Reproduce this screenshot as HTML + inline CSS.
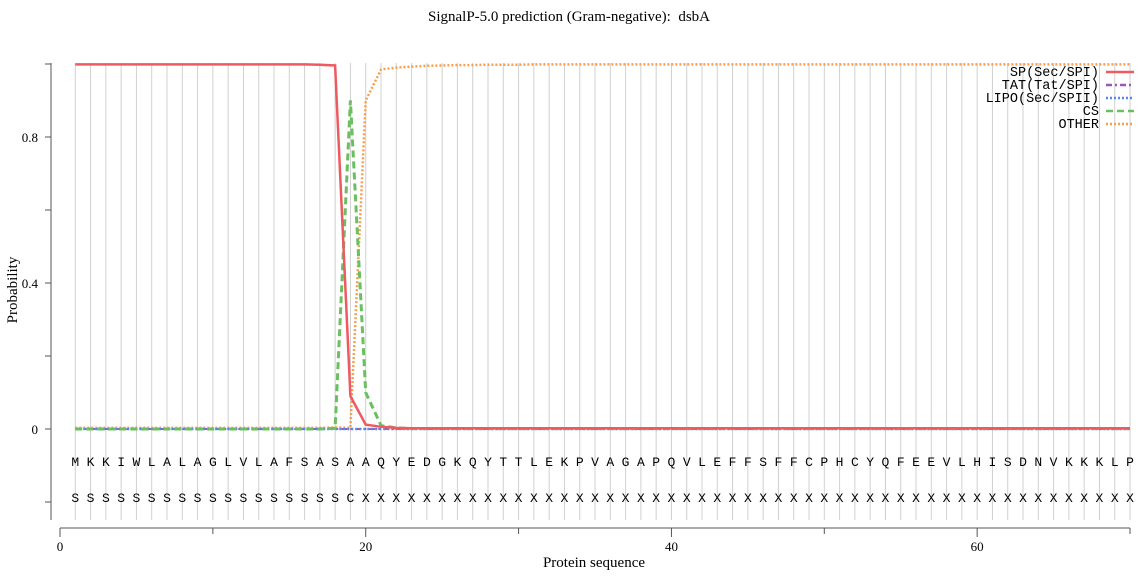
<!DOCTYPE html>
<html><head><meta charset="utf-8"><style>
body{margin:0;background:#fff;}
svg text{font-family:"Liberation Serif",serif;}
.mono{font-family:"Liberation Mono",monospace;}
</style></head><body>
<svg id="c" width="1139" height="572" xmlns="http://www.w3.org/2000/svg"></svg>
<script>
const seq = "MKKIWLALAGLVLAFSASAAQYEDGKQYTTLEKPVAGAPQVLEFFSFFCPHCYQFEEVLHISDNVKKKLP".split("");
const labels = "SSSSSSSSSSSSSSSSSSCXXXXXXXXXXXXXXXXXXXXXXXXXXXXXXXXXXXXXXXXXXXXXXXXXXX".split("");
const spVals = [0.999,0.999,0.999,0.999,0.999,0.999,0.999,0.999,0.999,0.999,0.999,0.999,0.999,0.999,0.999,0.999,0.998,0.996,0.09,0.012,0.006,0.003];
const csVals = [0,0,0,0,0,0,0,0,0,0,0,0,0,0,0,0,0,0.002,0.9,0.1,0.01,0.003];
const otherVals = [0.003,0.003,0.003,0.003,0.003,0.003,0.003,0.003,0.003,0.003,0.003,0.003,0.003,0.003,0.003,0.003,0.003,0.004,0.003,0.9,0.985,0.99,0.993,0.995,0.996,0.997,0.997,0.998,0.998,0.998];
const xTicks = [0,20,40,60];
const yTicks = [-0.2,0,0.2,0.4,0.6,0.8,1.0];
const yLabels = {"0":"0","0.4":"0.4","0.8":"0.8"};
const N = seq.length;
const x = v => 60 + v*15.286;
const y = v => 429 - v*365;
const svg = document.getElementById('c');
const NS="http://www.w3.org/2000/svg";
function mk(t,a,txt){const e=document.createElementNS(NS,t);for(const k in a)e.setAttribute(k,a[k]);if(txt!==undefined)e.textContent=txt;svg.appendChild(e);return e;}
function full(arr,fill){const r=[];for(let i=0;i<N;i++)r.push(i<arr.length?arr[i]:fill);return r;}
let e=mk('text',{x:569,y:21,'text-anchor':'middle','font-size':15},'SignalP-5.0 prediction (Gram-negative):\u00a0 dsbA');


for(let i=1;i<=N;i++){
  e=mk('line',{x1:x(i),x2:x(i),y1:63,y2:520,stroke:'#d0d0d0','stroke-width':1});
  
  
}
e=mk('line',{x1:51,x2:51,y1:63,y2:520,stroke:'#555','stroke-width':1});


yTicks.forEach(t=>{
  e=mk('line',{x1:45,x2:51,y1:y(t),y2:y(t),stroke:'#555'});
  
  
  const key=String(+t.toFixed(1));
  if(yLabels[key]!==undefined){
    e=mk('text',{x:38,y:y(t)+5,'text-anchor':'end','font-size':13},yLabels[key]);
    
    
  }
});
e=mk('text',{x:17,y:290,'text-anchor':'middle','font-size':15,transform:'rotate(-90 17 290)'},'Probability');


e=mk('line',{x1:60,x2:1130,y1:528,y2:528,stroke:'#555'});


for(let t=0;t<=70;t+=10){
  e=mk('line',{x1:x(t),x2:x(t),y1:528,y2:t%20===0?537:534,stroke:'#555'});
  
  
}
xTicks.forEach(t=>{
  e=mk('text',{x:x(t),y:551,'text-anchor':'middle','font-size':13},String(t));
  
  
});
e=mk('text',{x:594,y:567,'text-anchor':'middle','font-size':15},'Protein sequence');


seq.forEach((c,i)=>{
  e=mk('text',{x:x(i+1),y:466,'text-anchor':'middle','font-size':13,'class':'mono'},c);
  
  
  e=mk('text',{x:x(i+1),y:502,'text-anchor':'middle','font-size':13,'class':'mono'},labels[i]);
  
  
});
function line(vals,color,dash,w,name){
  const p=vals.map((v,i)=>x(i+1).toFixed(1)+','+y(v).toFixed(1)).join(' ');
  const el=mk('polyline',{points:p,fill:'none',stroke:color,'stroke-width':w,'stroke-dasharray':dash});
  
  
}
const zero=full([],0);
line(full(otherVals,0.999),'#f5a050','2,2',2.5,'other-line');
line(zero,'#9b59b6','6,3,2,3',2,'tat-line');
line(zero,'#5b86e5','2,2',2.5,'lipo-line');
line(full(csVals,0.001),'#6abf5e','7,4',3,'cs-line');
line(full(spVals,0.002),'#ee5a60','',2.5,'sp-line');
const leg=[['SP(Sec/SPI)','#ee5a60',''],['TAT(Tat/SPI)','#9b59b6','6,3,2,3'],['LIPO(Sec/SPII)','#5b86e5','2,2'],['CS','#6abf5e','7,4'],['OTHER','#f5a050','2,2']];
leg.forEach((l,i)=>{
  const yy=72+i*13;
  e=mk('text',{x:1099,y:yy+4,'text-anchor':'end','font-size':13.5,'class':'mono'},l[0]);
  
  
  e=mk('line',{x1:1106,x2:1134,y1:yy,y2:yy,stroke:l[1],'stroke-width':2.5,'stroke-dasharray':l[2]});
  
  
});
</script>
</body></html>
